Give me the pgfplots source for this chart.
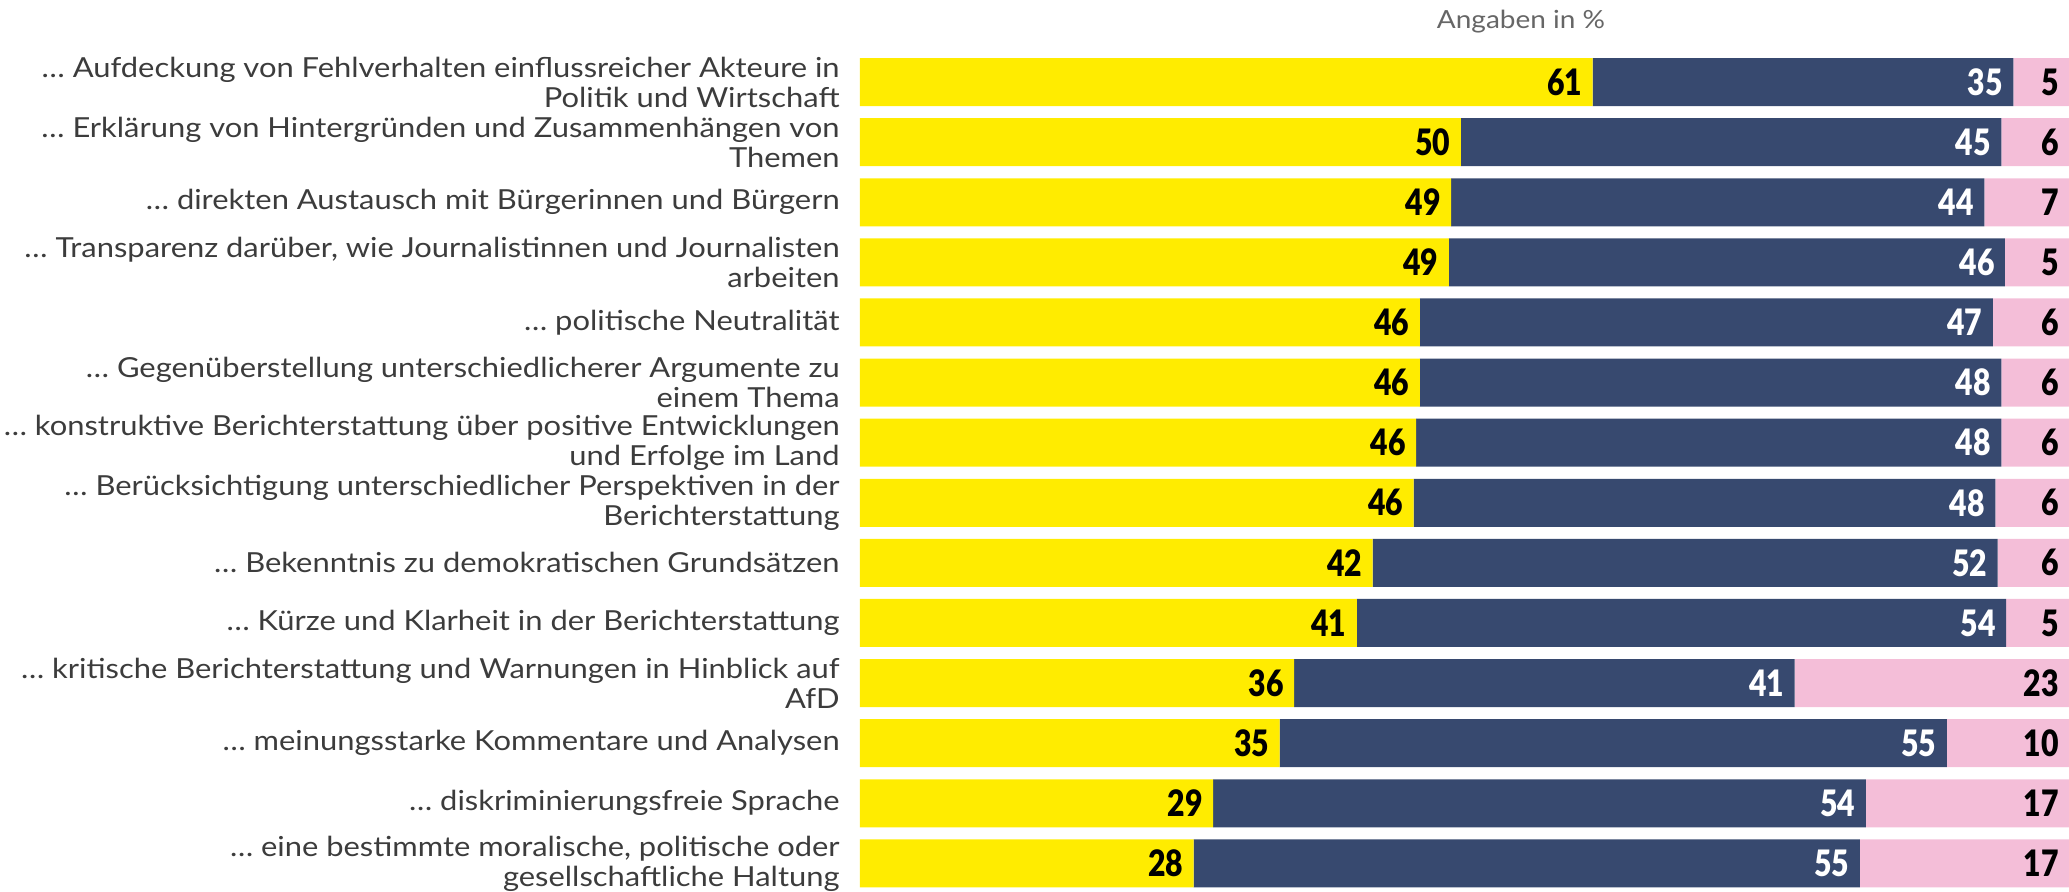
\documentclass[border=0pt]{standalone}
\usepackage{pgfplots}
\pgfplotsset{compat=1.18}
\usepackage{pgfplotstable}
\usepackage{fontspec}
\setmainfont{Lato}[FakeStretch=1.12]
\newfontfamily\numfont{Lato Black}[FakeStretch=0.83]
\definecolor{cyellow}{HTML}{FFEC00}
\definecolor{cnavy}{HTML}{37496F}
\definecolor{cpink}{HTML}{F4BED8}
\definecolor{clabel}{HTML}{3C3C3C}
\pgfplotstableread{
y a al b bl c cl
0 60.6 61 34.8 35 4.6 5
1 49.7 50 44.7 45 5.6 6
2 48.9 49 44.1 44 7.0 7
3 48.7 49 46.0 46 5.3 5
4 46.3 46 47.4 47 6.3 6
5 46.3 46 48.1 48 5.6 6
6 46.0 46 48.4 48 5.6 6
7 45.8 46 48.1 48 6.1 6
8 42.4 42 51.7 52 5.9 6
9 41.1 41 53.7 54 5.2 5
10 35.9 36 41.4 41 22.7 23
11 34.7 35 55.2 55 10.1 10
12 29.2 29 54.0 54 16.8 17
13 27.6 28 55.1 55 17.3 17
}\data
\begin{document}
\begin{tikzpicture}
\useasboundingbox (0,0) rectangle (1034.5pt,-445.5pt);
\begin{axis}[
  at={(430pt,-26pt)}, anchor=north west,
  width=604.5pt, height=420.7pt, scale only axis,
  xbar stacked, bar width=24pt,
  xmin=0, xmax=100, ymin=-0.5, ymax=13.5, y dir=reverse,
  axis line style={draw=none}, tick style={draw=none},
  xtick=\empty, ytick={0,...,13},
  yticklabels={
    {… Aufdeckung von Fehlverhalten einflussreicher Akteure in\\Politik und Wirtschaft},
    {… Erklärung von Hintergründen und Zusammenhängen von\\Themen},
    {… direkten Austausch mit Bürgerinnen und Bürgern},
    {… Transparenz darüber, wie Journalistinnen und Journalisten\\arbeiten},
    {… politische Neutralität},
    {… Gegenüberstellung unterschiedlicherer Argumente zu\\einem Thema},
    {… konstruktive Berichterstattung über positive Entwicklungen\\und Erfolge im Land},
    {… Berücksichtigung unterschiedlicher Perspektiven in der\\Berichterstattung},
    {… Bekenntnis zu demokratischen Grundsätzen},
    {… Kürze und Klarheit in der Berichterstattung},
    {… kritische Berichterstattung und Warnungen in Hinblick auf\\AfD},
    {… meinungsstarke Kommentare und Analysen},
    {… diskriminierungsfreie Sprache},
    {… eine bestimmte moralische, politische oder\\gesellschaftliche Haltung}},
  yticklabel style={align=right, font=\fontsize{13.8}{15}\selectfont, text=clabel, inner sep=0pt, xshift=-10pt},
  point meta=explicit symbolic,
  nodes near coords,
  visualization depends on={rawx \as \segw},
  nodes near coords style={anchor=east, inner sep=0pt, xshift={\segw*3.0225pt-5pt}, font=\numfont\fontsize{18.2}{18}\selectfont},
]
\addplot[fill=cyellow, draw=none, nodes near coords style={text=black}] table[x=a,y=y,meta=al]{\data};
\addplot[fill=cnavy, draw=none, nodes near coords style={text=white}] table[x=b,y=y,meta=bl]{\data};
\addplot[fill=cpink, draw=none, nodes near coords style={text=black}] table[x=c,y=y,meta=cl]{\data};
\end{axis}
\node[text=black!60, font=\fontsize{12.5}{14}\selectfont] at (760.5pt,-11pt) {Angaben in \%};
\end{tikzpicture}
\end{document}
